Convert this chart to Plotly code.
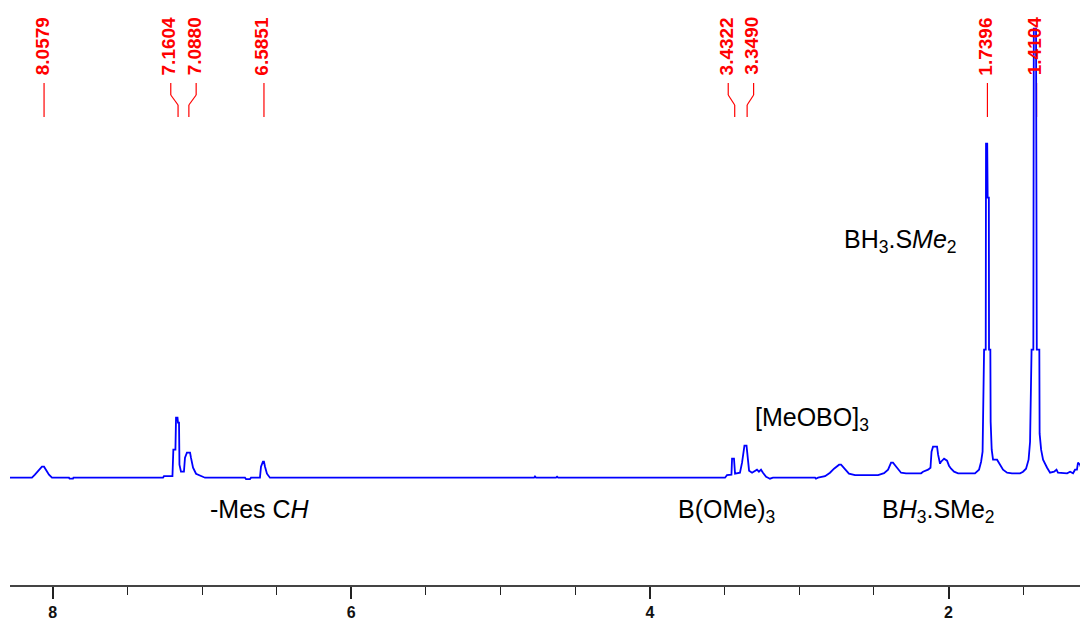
import plotly.graph_objects as go

# ---------------- data ----------------
# 1H NMR spectrum trace (chemical shift in ppm, intensity in arbitrary units)
spec_ppm = [8.286, 8.139, 8.119, 8.098, 8.072, 8.058, 8.045, 8.025, 8.005, 7.891,
            7.887, 7.864, 7.861, 7.261, 7.255, 7.198, 7.192, 7.178, 7.174, 7.164,
            7.161, 7.154, 7.151, 7.141, 7.121, 7.114, 7.101, 7.080, 7.074, 7.060,
            7.040, 7.013, 6.980, 6.712, 6.705, 6.679, 6.672, 6.612, 6.605, 6.592,
            6.585, 6.578, 6.565, 6.545, 4.776, 4.770, 4.763, 4.629, 4.622, 4.615,
            3.497, 3.484, 3.454, 3.450, 3.437, 3.430, 3.397, 3.383, 3.367, 3.353,
            3.346, 3.336, 3.316, 3.303, 3.283, 3.270, 3.256, 3.243, 3.222, 3.209,
            3.196, 3.176, 2.894, 2.888, 2.874, 2.827, 2.794, 2.767, 2.733, 2.720,
            2.693, 2.667, 2.626, 2.472, 2.432, 2.405, 2.385, 2.372, 2.345, 2.318,
            2.285, 2.184, 2.171, 2.137, 2.121, 2.114, 2.104, 2.077, 2.070, 2.057,
            2.050, 2.030, 2.010, 1.997, 1.983, 1.963, 1.936, 1.823, 1.796, 1.782,
            1.772, 1.762, 1.751, 1.749, 1.741, 1.738, 1.730, 1.729, 1.720, 1.718,
            1.711, 1.702, 1.675, 1.655, 1.635, 1.608, 1.575, 1.521, 1.501, 1.481,
            1.464, 1.454, 1.444, 1.432, 1.429, 1.414, 1.409, 1.392, 1.390, 1.380,
            1.367, 1.340, 1.320, 1.293, 1.277, 1.267, 1.240, 1.206, 1.186, 1.166,
            1.153, 1.140, 1.133, 1.120, 1.106, 1.093, 1.079, 1.066]
spec_int = [0, 0, 3, 7, 11, 11, 8, 3, 0, 0,
            -1, -1, 0, 0, 1.5, 1.5, 28, 28, 60, 60,
            55, 55, 13, 6, 6, 20, 25, 25, 20, 10,
            4, 2, 0, 0, -1.5, -1.5, 0, 0, 11, 16,
            16, 11, 4, 0, 0, 1.2, 0, 0, 1, 0,
            0, 2.5, 3, 19, 19, 4, 5, 15, 32, 32,
            19, 7, 5, 6, 8, 6, 8, 5, 1, 0,
            -1, 0, 0, -1, 0, 1.5, 5, 9, 13, 13,
            8, 4, 2.5, 2.5, 4.5, 8, 15, 15, 10, 5,
            4.4, 4.4, 6, 8, 10, 26, 31, 31, 23, 14,
            16, 19, 17, 12, 9, 6, 4.4, 4.4, 8, 16,
            26, 128, 128, 334, 334, 280, 280, 128, 128, 56,
            28, 18, 18, 13, 8, 5, 4.4, 4.4, 6, 9,
            18, 36, 128, 128, 449, 449, 128, 128, 44, 28,
            18, 10, 5, 6, 8, 5, 4.4, 4.4, 6, 4.4,
            8, 8, 15, 13, 8, 15, 10, 6]

# peak picking labels
peak_ppm = [8.0579, 7.1604, 7.0880, 6.5851, 3.4322, 3.3490, 1.7396, 1.4104]

# assignment labels
assign_text = ["BH<sub>3</sub>.S<i>Me</i><sub>2</sub>",
               "[MeOBO]<sub>3</sub>",
               "-Mes C<i>H</i>",
               "B(OMe)<sub>3</sub>",
               "B<i>H</i><sub>3</sub>.SMe<sub>2</sub>"]
assign_ppm = [2.325, 2.914, 6.612, 3.490, 2.070]
assign_int = [237, 59, -31, -33, -33]

x_ticks = [8, 6, 4, 2]
x_range = [8.286, 1.066]
y_range = [-107.3, 469.7]

# ---------------- figure ----------------
fig = go.Figure()
fig.add_trace(go.Scatter(x=spec_ppm, y=spec_int, mode="lines",
                         line=dict(color="#0000FF", width=1.8),
                         hoverinfo="skip", showlegend=False))

# spread label positions so close peaks get separated labels
min_sep = 0.170
groups = []
for p in peak_ppm:
    if groups and abs(groups[-1][-1] - p) < min_sep:
        groups[-1].append(p)
    else:
        groups.append([p])
label_x = []
for g in groups:
    c = sum(g) / len(g)
    n = len(g)
    for i in range(n):
        label_x.append(c + (n - 1) / 2 * min_sep - i * min_sep)

y_top, y_bend1, y_bend2, y_bot, y_text = 394.7, 382.7, 372.7, 360.7, 400.5
shapes = []
for p, lx in zip(peak_ppm, label_x):
    for (xa, ya, xb, yb) in [(lx, y_top, lx, y_bend1), (lx, y_bend1, p, y_bend2),
                             (p, y_bend2, p, y_bot)]:
        shapes.append(dict(type="line", xref="x", yref="y", x0=xa, y0=ya, x1=xb, y1=yb,
                           line=dict(color="#FF0000", width=1.2), layer="below"))
    fig.add_annotation(x=lx, y=y_text, xref="x", yref="y", text=f"<b>{p:.4f}</b>",
                       textangle=-90, showarrow=False, xanchor="center", yanchor="bottom",
                       xshift=-2,
                       font=dict(family="Liberation Sans, Arial, sans-serif", size=19,
                                 color="#FF0000"))

for t, xx, yy in zip(assign_text, assign_ppm, assign_int):
    fig.add_annotation(x=xx, y=yy, xref="x", yref="y", text=t, showarrow=False,
                       xanchor="center", yanchor="middle",
                       font=dict(family="Liberation Sans, Arial, sans-serif", size=25,
                                 color="#000000"))

fig.update_layout(
    width=1080, height=614,
    margin=dict(l=2, r=0, t=0, b=37, autoexpand=False),
    paper_bgcolor="white", plot_bgcolor="white",
    shapes=shapes,
    showlegend=False,
    xaxis=dict(range=x_range, showgrid=False, zeroline=False, automargin=False,
               showline=True, linecolor="#444444", linewidth=2,
               ticks="outside", ticklen=12, tickwidth=1.5, tickcolor="#222222",
               tickvals=x_ticks, ticktext=[f"<b>{v}</b>" for v in x_ticks],
               tickfont=dict(family="Liberation Sans, Arial, sans-serif", size=16,
                             color="#111111"),
               ticklabelstandoff=0,
               minor=dict(dtick=0.5, tick0=0, ticks="outside", ticklen=8,
                          tickwidth=1.2, tickcolor="#222222", showgrid=False)),
    yaxis=dict(range=y_range, visible=False, showgrid=False, zeroline=False,
               automargin=False),
)

fig.write_html("out.html")
